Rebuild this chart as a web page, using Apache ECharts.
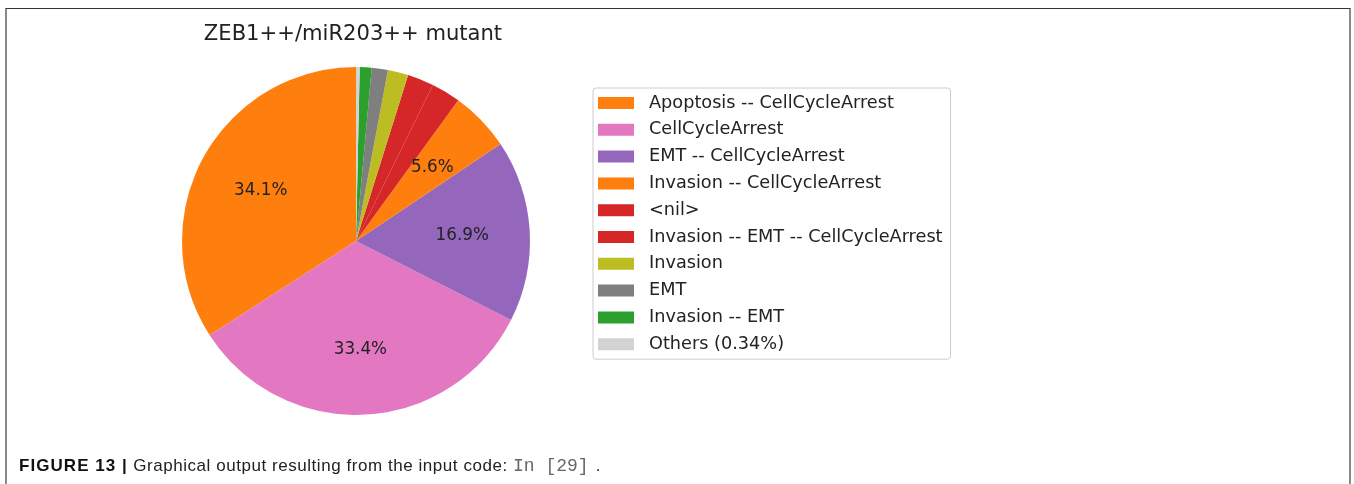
<!DOCTYPE html>
<html>
<head>
<meta charset="utf-8">
<script src="https://cdn.jsdelivr.net/npm/echarts@6/dist/echarts.min.js"></script>
<style>
  html, body { margin: 0; padding: 0; background: #fff; }
  #frame { position: absolute; left: 5px; top: 8px; width: 1346px; height: 480px;
           border-top: 1px solid #333; border-left: 2px solid #8a8a8a; border-right: 2px solid #8a8a8a; box-sizing: border-box; }
  #chart { position: absolute; left: 0; top: 0; width: 1354px; height: 484px; }
  #caption { position: absolute; left: 19px; top: 456px; font-family: "Liberation Sans", Arial, sans-serif;
             font-size: 17px; letter-spacing: 0.55px; color: #222; white-space: pre; }
  #caption b { letter-spacing: 1.05px; color: #111; }
  #caption code { font-family: "Liberation Mono", "DejaVu Sans Mono", monospace; font-size: 18px; color: #666; letter-spacing: 0; margin-right: 7px; }
</style>
</head>
<body>
<div id="frame"></div>
<div id="chart"></div>
<div id="caption"><b>FIGURE 13 |</b> Graphical output resulting from the input code: <code>In [29]</code>.</div>
<script>
const title = "ZEB1++/miR203++ mutant";
const categories = [
  "Apoptosis -- CellCycleArrest",
  "CellCycleArrest",
  "EMT -- CellCycleArrest",
  "Invasion -- CellCycleArrest",
  "<nil>",
  "Invasion -- EMT -- CellCycleArrest",
  "Invasion",
  "EMT",
  "Invasion -- EMT",
  "Others (0.34%)"
];
const values = [34.1, 33.4, 16.9, 5.6, 2.71, 2.45, 1.9, 1.5, 1.1, 0.34];
const colors = ["#ff7f0e", "#e377c2", "#9467bd", "#ff7f0e", "#d62728", "#d62728", "#bcbd22", "#7f7f7f", "#2ca02c", "#d3d3d3"];

const R = 174;
const total = values.reduce((a, b) => a + b, 0);
const data = categories.map((c, i) => ({ name: c, value: values[i], itemStyle: { color: colors[i] } }));

const chart = echarts.init(document.getElementById('chart'), null, { renderer: 'canvas' });
chart.setOption({
  animation: false,
  title: {
    text: title, left: 348, top: 19, textAlign: 'center',
    textStyle: { fontFamily: 'DejaVu Sans', fontSize: 21.1, fontWeight: 'normal', color: '#222' }
  },
  legend: {
    orient: 'vertical', left: 593, top: 88,
    data: categories,
    icon: 'rect', itemWidth: 36, itemHeight: 12, itemGap: 8.8,
    borderColor: '#cccccc', borderWidth: 1, borderRadius: 3,
    padding: [6, 8, 6, 5],
    textStyle: { fontFamily: 'DejaVu Sans', fontSize: 17.7, color: '#222', padding: [0, 0, 0, 10] }
  },
  series: [
    {
      type: 'pie', center: [356, 241], radius: [0, R],
      startAngle: 90, clockwise: false, silent: true,
      label: { show: false }, labelLine: { show: false },
      itemStyle: { borderWidth: 0 },
      data: data
    },
    {
      type: 'pie', center: [355, 242], radius: [0.2 * R, R],
      startAngle: 90, clockwise: false, silent: true,
      itemStyle: { color: 'rgba(0,0,0,0)', borderWidth: 0 },
      labelLine: { show: false },
      label: {
        show: true, position: 'inside',
        fontFamily: 'DejaVu Sans', fontSize: 16.8, color: '#222',
        formatter: p => p.percent > 5 ? (p.value / total * 100).toFixed(1) + '%' : ''
      },
      data: categories.map((c, i) => ({ name: c, value: values[i], itemStyle: { color: 'rgba(0,0,0,0)' } }))
    }
  ]
});
</script>
</body>
</html>
